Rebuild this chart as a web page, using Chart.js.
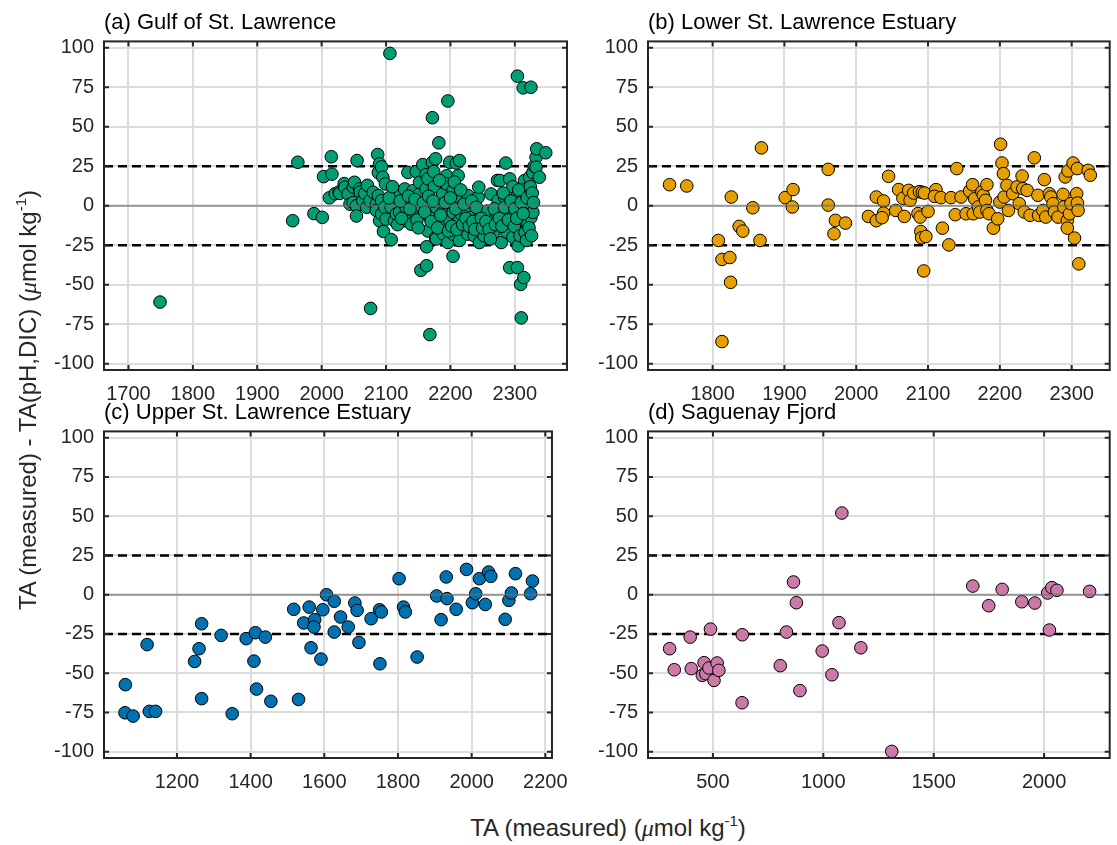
<!DOCTYPE html>
<html>
<head>
<meta charset="utf-8">
<script src="https://cdn.jsdelivr.net/npm/chart.js@4.4.1/dist/chart.umd.min.js"></script>
<style>
  body { margin: 0; background: #fff; width: 1117px; height: 845px; position: relative; overflow: hidden;
         font-family: 'Liberation Sans', Arial, sans-serif; color: #262626; }
  canvas { position: absolute; }
  .lbl { position: absolute; font-size: 24px; white-space: nowrap; text-align: center; line-height: 28px; }
  .mu { font-family: 'Liberation Serif', 'DejaVu Serif', serif; font-style: italic; }
  sup { font-size: 15px; vertical-align: 10px; line-height: 0; }
</style>
</head>
<body>
<canvas id="pa" width="540" height="400" style="left:40px;top:0px"></canvas>
<canvas id="pb" width="533" height="400" style="left:584px;top:0px"></canvas>
<canvas id="pc" width="540" height="398" style="left:40px;top:390px"></canvas>
<canvas id="pd" width="533" height="398" style="left:584px;top:390px"></canvas>
<div class="lbl" style="left:-322px;top:386px;width:700px;transform:rotate(-90deg);">TA (measured) - TA(pH,DIC) (<span class="mu">μ</span>mol kg<sup>-1</sup>)</div>
<div class="lbl" style="left:358px;top:814px;width:500px;">TA (measured) (<span class="mu">μ</span>mol kg<sup>-1</sup>)</div>
<script>
// (a) Gulf of St. Lawrence
const gulfTA = [
  1749,1955,1963,1988,2001,2003,2012,2015,2016,2021,
  2027,2028,2035,2036,2041,2044,2049,2049,2051,2054,
  2054,2055,2059,2060,2064,2067,2070,2071,2075,2076,
  2080,2085,2085,2087,2088,2088,2090,2090,2093,2093,
  2093,2095,2096,2098,2099,2100,2106,2108,2108,2113,
  2116,2116,2121,2126,2129,2129,2131,2134,2139,2139,
  2142,2142,2147,2152,2152,2154,2155,2157,2162,2162,
  2163,2163,2165,2165,2168,2168,2172,2172,2174,2175,
  2177,2177,2178,2178,2182,2188,2188,2189,2191,2194,
  2194,2196,2196,2199,2199,2204,2204,2204,2204,2209,
  2212,2212,2214,2214,2214,2217,2224,2227,2227,2232,
  2237,2243,2244,2245,2245,2252,2257,2263,2266,2268,
  2271,2273,2274,2277,2279,2284,2286,2286,2287,2292,
  2292,2297,2297,2297,2302,2304,2304,2305,2307,2309,
  2310,2311,2312,2313,2314,2315,2317,2317,2320,2320,
  2323,2323,2325,2325,2328,2328,2330,2333,2333,2334,
  2338,2348,2105,2110,2118,2122,2124,2135,2137,2145,
  2148,2150,2158,2160,2166,2170,2173,2180,2183,2185,
  2192,2197,2200,2202,2206,2208,2210,2216,2219,2221,
  2224,2229,2233,2235,2238,2240,2248,2250,2255,2260,
  2262,2268,2270,2276,2280,2282,2284,2290,2294,2299,
  2300,2303,2306,2308,2310,2313,2316,2318,2319,2322,
  2324,2326,2327,2329
];
const gulfDiff = [
  -61,-9.5,27.5,-5,-7.4,18.4,5,31,20,7.6,
  8.7,7.8,14,11.7,7.4,1,11.8,2,14.8,0,
  -6.5,28.6,10.6,8.7,3.2,7.8,-1,12.9,3.2,-65,
  8.5,1,-3,32.4,21,6.4,26.5,-9.5,-5.3,3.2,
  24.5,18,-16.3,-1,13.8,-8.5,96.4,-21.4,-1,-9.5,
  8.5,-5.3,-4.2,2,10.6,-9.5,-1,21,-6.4,-11.7,
  9.5,-3.2,21.6,7.4,14.8,-40.9,-1,26,19.7,10.6,
  -38,-26,17,-16,-81.6,-7.4,27.5,55.7,21.6,12,
  29.7,-20.3,-1,-21,39.8,7.4,-4.2,-18,-10.6,19,
  13.8,66.3,-23.3,27.5,-9.5,-32,9.5,-18,-4.2,27,
  19,3.2,28.6,-22,-9.5,-5.3,-2,6.4,-18,-7.4,
  -19,5.3,11.7,-23.3,-3.2,-19,-3.4,7.4,-18,-9.3,
  -4.2,16,3.2,15.9,-23.3,5.3,27,-5.3,-16.7,17,
  -39.2,12,-20,-5.3,5.3,-39.2,82,-25.4,-1,-49.8,
  -71,-14.8,-9.5,74.6,-45.5,15.9,-3.2,10.6,-11.7,7.4,
  2,18,75,-7.4,-4.2,21,25,30.7,24.4,36,
  18,33.5,5,12,-12,3,-8,6,-2,4,
  -9,-14,2,-4,6,-10,3,-14,16,-6,
  2,-16,5,-13,15,-2,-15,10,-12,1,
  -8,-13,3,-10,-15,-1,-8,-14,-10,-15,
  -21,-2,-12,-8,-13,8,-1,-9,3,-13,
  -2,-8,10,-19,2,-5,-17,-22,5,-14,
  12,-19,8,2
];

// (b) Lower St. Lawrence Estuary
const lowerTA = [
  1740,1764,1808,1813,1824,1825,1826,1837,1842,1856,
  1866,1868,1813,1901,1912,1911,1961,1961,1971,1969,
  1985,2017,2028,2028,2038,2038,2036,2045,2055,2059,
  2065,2067,2073,2075,2080,2088,2092,2095,2086,2089,
  2090,2091,2097,2094,2100,2111,2109,2118,2120,2129,
  2132,2138,2140,2146,2153,2158,2162,2163,2165,2170,
  2172,2175,2177,2180,2182,2182,2185,2191,2197,2200,
  2201,2203,2205,2206,2210,2212,2218,2224,2227,2231,
  2232,2234,2238,2242,2248,2253,2254,2260,2262,2264,
  2269,2271,2274,2276,2281,2288,2289,2291,2294,2294,
  2295,2297,2299,2302,2304,2307,2308,2308,2309,2310,
  2323,2326
];
const lowerDiff = [
  13.3,12.5,-22,-34,-32.8,-48.5,5.5,-13.1,-16.1,-1.3,
  -22,36.6,-86,5.1,10.2,-0.8,23,0.4,-9.3,-17.8,
  -11,-6.8,5.5,-9.5,3,-4.7,-7.6,18.6,-3,10.2,
  4.7,-6.8,9.7,3.4,8,8.9,8.5,8,-5,-7.2,
  -16.3,-20.3,-19.5,-41.3,-3.6,10.2,5.9,5.1,-14.2,-24.8,
  5.1,-5.7,23.5,5.5,-5.1,9.3,13.3,-5.1,4.4,-0.8,
  -4,8.7,6.6,3.4,13.3,-3,-5.1,-14.2,-8.3,2.3,
  38.9,27,20.3,5.5,12.9,-3,7.6,11.9,1.3,18.8,
  10.8,-4,9.7,-6.1,30.3,6.6,-6.1,-3,16.5,-7.2,
  7.6,5.5,1.3,-4,-7.2,7.2,-0.8,18.2,-9.3,-14.2,
  22,-5.1,1.3,27,-20.5,7.6,1.7,23.5,-3,-36.8,
  22.4,19.3
];

// (c) Upper St. Lawrence Estuary
const upperTA = [
  1060,1059,1081,1125,1142,1119,1248,1260,1267,1267,
  1320,1350,1388,1413,1409,1416,1440,1455,1517,1530,
  1544,1559,1564,1574,1572,1591,1596,1606,1627,1627,
  1644,1665,1683,1689,1694,1727,1750,1755,1751,1803,
  1815,1820,1852,1905,1917,1931,1933,1958,1986,2002,
  2011,2021,2037,2046,2052,2091,2101,2108,2119,2160,
  2165
];
const upperDiff = [
  -57.3,-75.2,-77.3,-74.3,-74.3,-31.8,-42.5,-34.4,-18.5,-66.2,
  -25.9,-75.8,-28,-24.2,-42.3,-60.1,-27,-67.9,-9.3,-66.7,
  -18,-7.9,-33.8,-15.9,-20.6,-41,-9.6,0,-4.2,-23.8,
  -14.2,-20.6,-5.3,-10,-30.4,-15.3,-9.6,-11,-44,10.2,
  -7.9,-11,-39.7,-0.8,-15.9,11.3,-2.5,-9.3,16.1,-5.1,
  0.6,10.2,-6.2,14.4,11.7,-15.7,-3.6,1.1,13.4,0.6,
  8.7
];

// (d) Saguenay Fjord
const sagTA = [
  304,325,397,402,452,460,468,482,489,505,
  519,527,633,632,805,833,865,878,894,995,
  1039,1071,1084,1170,1310,1677,1749,1810,1899,1958,
  2016,2035,2058,2024,2206
];
const sagDiff = [
  -34.4,-47.8,-27,-47.1,-51.4,-43.3,-50.3,-46.7,-21.9,-54.6,
  -43.5,-48.2,-25.5,-68.8,-45.2,-23.8,8.1,-5.1,-61.1,-35.9,
  -51,-17.8,52,-33.8,-99.8,5.5,-7,3.4,-4.5,-5.3,
  1.1,4.5,2.8,-22.5,2.1
];

// tick labels
const gulfTicks = [1700, 1800, 1900, 2000, 2100, 2200, 2300];
const lowerTicks = [1800, 1900, 2000, 2100, 2200, 2300];
const upperTicks = [1200, 1400, 1600, 1800, 2000, 2200];
const sagTicks = [500, 1000, 1500, 2000];
const yTicks = [-100, -75, -50, -25, 0, 25, 50, 75, 100];
const yLimits = [-104, 104];
const refLevels = [25, -25];

Chart.defaults.font.family = "'Liberation Sans', Arial, sans-serif";
Chart.defaults.font.size = 20;
Chart.defaults.color = '#262626';

// box round the plot area with inward ticks on all four sides
const boxPlugin = {
  id: 'box',
  afterDraw(chart) {
    const { ctx, chartArea: a, scales } = chart;
    ctx.save();
    ctx.strokeStyle = '#262626';
    ctx.lineWidth = 2;
    ctx.strokeRect(a.left, a.top, a.right - a.left, a.bottom - a.top);
    ctx.beginPath();
    scales.x.ticks.forEach(t => {
      const px = scales.x.getPixelForValue(t.value);
      ctx.moveTo(px, a.bottom); ctx.lineTo(px, a.bottom - 5);
      ctx.moveTo(px, a.top); ctx.lineTo(px, a.top + 5);
    });
    scales.y.ticks.forEach(t => {
      const py = scales.y.getPixelForValue(t.value);
      ctx.moveTo(a.left, py); ctx.lineTo(a.left + 5, py);
      ctx.moveTo(a.right, py); ctx.lineTo(a.right - 5, py);
    });
    ctx.stroke();
    ctx.restore();
  }
};

function hline(y, xmin, xmax) {
  return [{ x: xmin, y: y }, { x: xmax, y: y }];
}

function makePanel(id, title, xs, ys, color, xmin, xmax, xTicks, padRight) {
  const points = xs.map((x, i) => ({ x: x, y: ys[i] }));
  new Chart(document.getElementById(id), {
    type: 'scatter',
    data: {
      datasets: [
        {
          data: hline(0, xmin, xmax),
          showLine: true,
          borderColor: 'rgba(110,110,110,0.65)',
          borderWidth: 2,
          pointRadius: 0,
          order: 0
        },
        {
          data: points,
          backgroundColor: color,
          borderColor: '#000',
          borderWidth: 1,
          pointRadius: 6.3,
          order: 1
        },
        ...refLevels.map(lv => ({
          data: hline(lv, xmin, xmax),
          showLine: true,
          borderColor: '#000',
          borderWidth: 2.5,
          borderDash: [9, 5],
          pointRadius: 0,
          order: 2
        }))
      ]
    },
    options: {
      responsive: false,
      animation: false,
      layout: { padding: { left: 0, right: padRight, top: 2, bottom: 0 } },
      plugins: {
        legend: { display: false },
        tooltip: { enabled: false },
        title: {
          display: true,
          text: title,
          align: 'start',
          fullSize: false,
          color: '#000',
          font: { size: 22, weight: 'normal' },
          padding: { top: 8, bottom: 5 }
        }
      },
      scales: {
        x: {
          type: 'linear',
          min: xmin,
          max: xmax,
          afterFit: s => { s.height = 30; },
          afterBuildTicks: s => { s.ticks = xTicks.map(v => ({ value: v })); },
          border: { display: false },
          grid: { color: '#dcdcdc', lineWidth: 2, drawTicks: false },
          ticks: { padding: 12, maxRotation: 0, autoSkip: false, callback: v => String(v) }
        },
        y: {
          min: yLimits[0],
          max: yLimits[1],
          afterFit: s => { s.width = 64; },
          afterBuildTicks: s => { s.ticks = yTicks.map(v => ({ value: v })); },
          border: { display: false },
          grid: { color: '#dcdcdc', lineWidth: 2, drawTicks: false },
          ticks: { padding: 10, autoSkip: false, callback: v => String(v) }
        }
      }
    },
    plugins: [boxPlugin]
  });
}

makePanel('pa', '(a) Gulf of St. Lawrence', gulfTA, gulfDiff, '#009E73', 1662, 2381, gulfTicks, 13);
makePanel('pb', '(b) Lower St. Lawrence Estuary', lowerTA, lowerDiff, '#E69F00', 1710, 2353, lowerTicks, 6);
makePanel('pc', '(c) Upper St. Lawrence Estuary', upperTA, upperDiff, '#0072B2', 1002, 2218, upperTicks, 13);
makePanel('pd', '(d) Saguenay Fjord', sagTA, sagDiff, '#CC79A7', 206, 2297, sagTicks, 6);
</script>
</body>
</html>
